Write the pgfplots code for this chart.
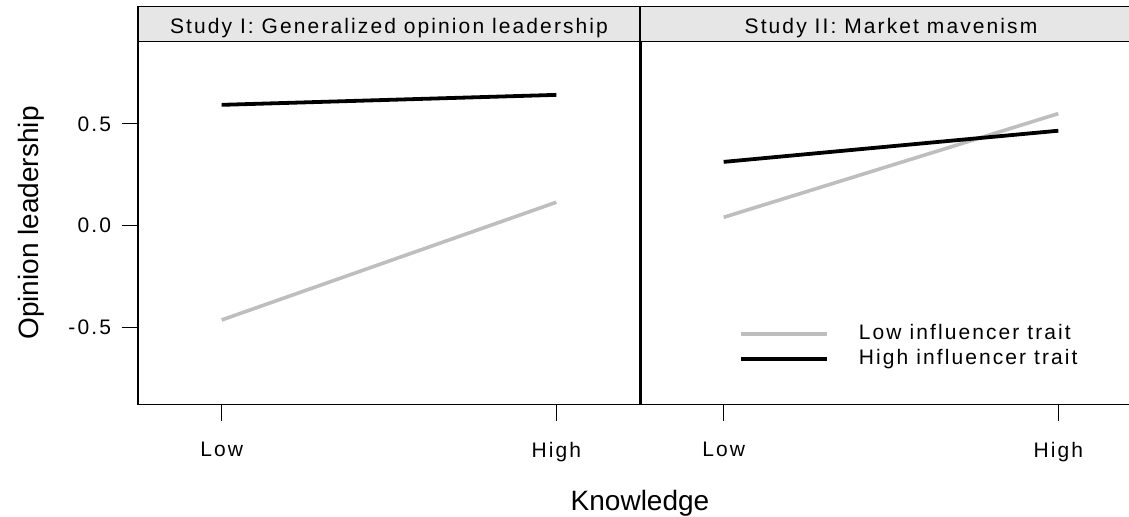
\documentclass[border=0pt]{standalone}
\usepackage{pgfplots}
\pgfplotsset{compat=1.18}
\usepackage{fontspec}
\setmainfont{Liberation Sans}
\newfontfamily\pix{Liberation Sans}[LetterSpace=10]
\definecolor{stripgray}{HTML}{E6E6E6}
\definecolor{lowgray}{HTML}{BEBEBE}
\newcommand\pixfont{\pix\fontsize{21bp}{24bp}\selectfont}
\begin{document}
\begin{tikzpicture}
\pgfplotsset{
  every axis title shift=0pt,
  panel/.style={
    scale only axis, width=502bp, height=362.6bp, anchor=south west,
    xmin=-0.25, xmax=1.25, ymin=-0.877, ymax=0.903,
    xtick={0,1}, xticklabels={Low,High},
    tick align=outside, major tick length=16.5bp,
    xtick pos=lower, ytick pos=left,
    axis line style={line width=1.2bp},
    every tick/.style={black, line width=1.2bp},
    tick label style={font=\pixfont},
    xticklabel style={yshift=-18bp},
    title style={at={(0.5,1)}, anchor=south, yshift=0pt, fill=stripgray, draw=black, line width=1.2bp,
      minimum width=502bp, minimum height=34.4bp, inner sep=0pt,
      text height=21bp, text depth=2bp, font=\pixfont},
    clip=false,
  }
}
\begin{axis}[panel, at={(138bp,112.7bp)},
  ytick={-0.5,0,0.5}, yticklabels={-0.5,0.0,0.5},
  yticklabel style={xshift=-7bp},
  title={Study I: Generalized opinion leadership}]
\addplot[lowgray, line width=3.6bp] coordinates {(0,-0.463) (1,0.115)};
\addplot[black, line width=3.8bp] coordinates {(0,0.593) (1,0.642)};
\end{axis}
\begin{axis}[panel, at={(640bp,112.7bp)},
  ytick=\empty,
  title={Study II: Market mavenism},
  legend style={at={(0.197,0.159)}, anchor=west, draw=none, fill=none, inner sep=0pt,
    font=\pixfont, row sep=4.5bp, /tikz/column sep=30bp,
    nodes={inner sep=0pt, text height=16bp, text depth=5bp}},
  legend cell align=left,
  legend image code/.code={\draw[#1] (0bp,0bp) -- (86bp,0bp);},
  ]
\addplot[lowgray, line width=3.6bp] coordinates {(0,0.041) (1,0.550)};
\addplot[black, line width=3.8bp] coordinates {(0,0.313) (1,0.466)};
\legend{Low influencer trait, High influencer trait}
\draw[line width=3bp] (rel axis cs:0,0) -- (rel axis cs:0,1);
\end{axis}
\node[anchor=base, font=\fontsize{28bp}{30bp}\selectfont] at (640bp,7bp) {Knowledge};
\node[anchor=base, rotate=90, font=\fontsize{28bp}{30bp}\selectfont] at (38bp,294bp) {Opinion leadership};
\pgfresetboundingbox
\path[use as bounding box] (0,0) rectangle (1129bp,517bp);
\end{tikzpicture}
\end{document}
